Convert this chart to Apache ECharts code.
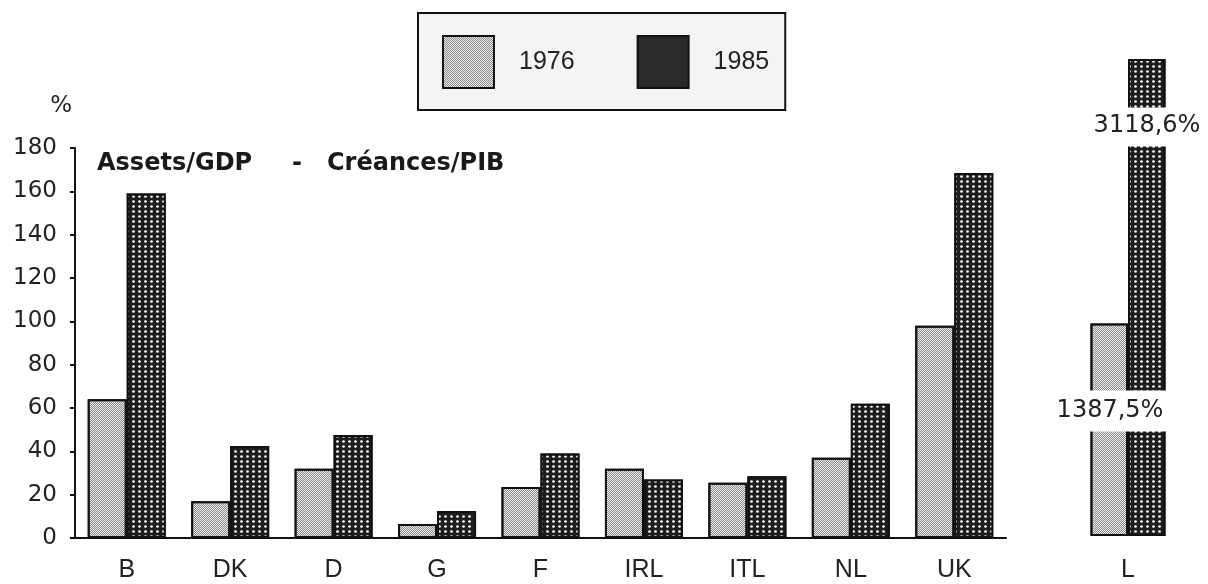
<!DOCTYPE html>
<html>
<head>
<meta charset="utf-8">
<script src="https://cdn.jsdelivr.net/npm/echarts@6/dist/echarts.min.js"></script>
<style>
html,body{margin:0;padding:0;background:#fff;}
#chart{width:1208px;height:584px;}
</style>
</head>
<body>
<div id="chart"></div>
<script>
// ---- data ----
const categories = ['B', 'DK', 'D', 'G', 'F', 'IRL', 'ITL', 'NL', 'UK'];
const values1976 = [64, 17, 32, 6.5, 23.5, 32, 25.5, 37, 98];
const values1985 = [159, 42.5, 47.5, 12.5, 39, 27, 28.5, 62, 168.5];
const lCategory = ['L'];
const l1976 = [1387.5];
const l1985 = [3118.6];
const lLabels = ['1387,5%', '3118,6%'];
const seriesNames = ['1976', '1985'];
const yMin = 0, yMax = 180, yInterval = 20;

// ---- styles ----
const style1976 = {
  color: '#ececec',
  borderColor: '#111',
  borderWidth: 2,
  decal: {
    symbol: 'rect',
    symbolSize: 1,
    color: '#8a8a8a',
    dashArrayX: [[1, 1], [0, 1, 1, 0]],
    dashArrayY: [1, 0]
  }
};
const style1985 = {
  color: '#1e1e1e',
  borderColor: '#111',
  borderWidth: 2,
  decal: {
    symbol: 'circle',
    symbolSize: 0.9,
    color: '#ffffff',
    dashArrayX: [3, 2.5],
    dashArrayY: [3, 2]
  }
};
const tickFont = { fontFamily: 'DejaVu Sans', fontSize: 23, color: '#222' };
const catFont = { fontFamily: 'Liberation Sans', fontSize: 25, color: '#222' };

const chart = echarts.init(document.getElementById('chart'), null, { renderer: 'canvas' });
chart.setOption({
  backgroundColor: '#ffffff',
  animation: false,
  legend: {
    left: 418,
    top: 13,
    orient: 'horizontal',
    icon: 'rect',
    itemWidth: 51,
    itemHeight: 52,
    itemGap: 62,
    padding: [22, 16, 21, 24],
    borderColor: '#111',
    borderWidth: 2,
    backgroundColor: '#f4f4f4',
    selectedMode: false,
    textStyle: {
      fontFamily: 'Liberation Sans',
      fontSize: 25,
      color: '#222',
      padding: [0, 0, 0, 20]
    },
    data: [
      { name: seriesNames[0] },
      { name: seriesNames[1], itemStyle: { color: '#2a2a2a', decal: 'none' } }
    ]
  },
  grid: [
    { left: 75, right: 202, top: 148, bottom: 46 },
    { left: 1078, width: 100, top: 59, bottom: 48 }
  ],
  xAxis: [
    {
      gridIndex: 0,
      type: 'category',
      data: categories,
      axisLine: { show: true, lineStyle: { color: '#111', width: 2 } },
      axisTick: { show: false },
      axisLabel: Object.assign({ margin: 20 }, catFont)
    },
    {
      gridIndex: 1,
      type: 'category',
      data: lCategory,
      axisLine: { show: false },
      axisTick: { show: false },
      axisLabel: Object.assign({ margin: 22 }, catFont)
    }
  ],
  yAxis: [
    {
      gridIndex: 0,
      type: 'value',
      min: yMin,
      max: yMax,
      interval: yInterval,
      name: '%',
      nameLocation: 'end',
      nameGap: 30,
      nameTextStyle: { fontFamily: 'DejaVu Sans', fontSize: 23, color: '#222', align: 'right', padding: [0, 3, 0, 0] },
      axisLine: { show: true, lineStyle: { color: '#111', width: 2 } },
      axisTick: { show: true, length: 5, lineStyle: { color: '#111', width: 2 } },
      axisLabel: Object.assign({ margin: 18 }, tickFont),
      splitLine: { show: false }
    },
    {
      gridIndex: 1,
      type: 'value',
      min: 0,
      max: l1985[0],
      show: true,
      axisLine: { show: false },
      axisTick: { show: false },
      axisLabel: { show: false },
      splitLine: { show: false },
      breaks: [
        { start: 48, end: 1356.6, gap: '8.6%' },
        { start: 1469, end: 3096.4, gap: '8.2%' }
      ],
      breakArea: {
        show: true,
        expandOnClick: false,
        zigzagAmplitude: 0,
        zigzagZ: 100,
        itemStyle: { color: '#ffffff', borderColor: '#ffffff', borderWidth: 0, opacity: 1 }
      },
      breakLabelLayout: { moveOverlap: false }
    }
  ],
  series: [
    {
      name: seriesNames[0], type: 'bar', xAxisIndex: 0, yAxisIndex: 0,
      data: values1976, barGap: '0%', barCategoryGap: '24.6%', itemStyle: style1976
    },
    {
      name: seriesNames[1], type: 'bar', xAxisIndex: 0, yAxisIndex: 0,
      data: values1985, barGap: '0%', barCategoryGap: '24.6%', itemStyle: style1985
    },
    {
      name: seriesNames[0], type: 'bar', xAxisIndex: 1, yAxisIndex: 1,
      data: l1976, barGap: '0%', barCategoryGap: '25%', itemStyle: style1976
    },
    {
      name: seriesNames[1], type: 'bar', xAxisIndex: 1, yAxisIndex: 1,
      data: l1985, barGap: '0%', barCategoryGap: '25%', itemStyle: style1985
    }
  ],
  graphic: [
    { type: 'text', x: 97, y: 164, z: 200, style: { text: 'Assets/GDP', fontFamily: 'DejaVu Sans', fontWeight: 'bold', fontSize: 24, fill: '#1a1a1a', align: 'left', verticalAlign: 'middle' } },
    { type: 'text', x: 297, y: 164, z: 200, style: { text: '-', fontFamily: 'DejaVu Sans', fontWeight: 'bold', fontSize: 24, fill: '#1a1a1a', align: 'center', verticalAlign: 'middle' } },
    { type: 'text', x: 327, y: 164, z: 200, style: { text: 'Créances/PIB', fontFamily: 'DejaVu Sans', fontWeight: 'bold', fontSize: 24, fill: '#1a1a1a', align: 'left', verticalAlign: 'middle' } },
    { type: 'text', x: 1110, y: 411, z: 200, style: { text: lLabels[0], fontFamily: 'DejaVu Sans', fontSize: 24, fill: '#222', align: 'center', verticalAlign: 'middle' } },
    { type: 'text', x: 1147, y: 126, z: 200, style: { text: lLabels[1], fontFamily: 'DejaVu Sans', fontSize: 24, fill: '#222', align: 'center', verticalAlign: 'middle' } }
  ]
});
</script>
</body>
</html>
